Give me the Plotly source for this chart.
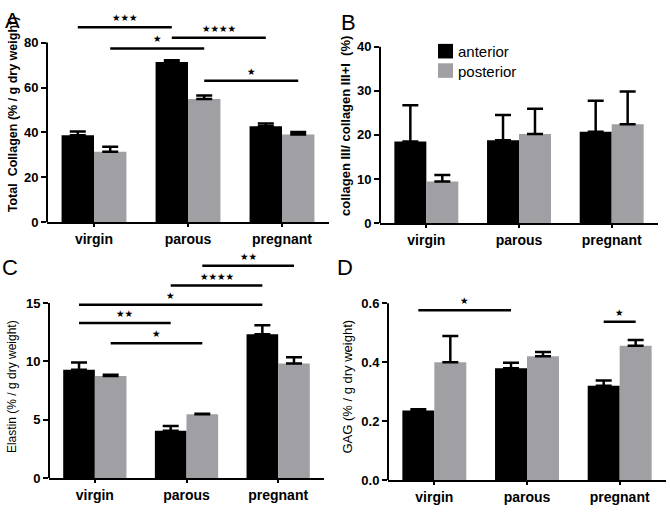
import plotly.graph_objects as go

# ---------------- data ----------------
categories = ["virgin", "parous", "pregnant"]
series_names = ["anterior", "posterior"]

collagen_anterior = [38.7, 71.4, 42.7]
collagen_anterior_err = [1.7, 0.7, 1.3]
collagen_posterior = [31.4, 54.9, 39.1]
collagen_posterior_err = [2.2, 1.6, 1.1]

ratio_anterior = [18.5, 18.8, 20.7]
ratio_anterior_err = [8.2, 5.7, 7.0]
ratio_posterior = [9.45, 20.2, 22.4]
ratio_posterior_err = [1.45, 5.7, 7.4]

elastin_anterior = [9.28, 4.05, 12.33]
elastin_anterior_err = [0.62, 0.42, 0.77]
elastin_posterior = [8.75, 5.47, 9.83]
elastin_posterior_err = [0.11, 0.05, 0.53]

gag_anterior = [0.236, 0.38, 0.32]
gag_anterior_err = [0.005, 0.018, 0.018]
gag_posterior = [0.40, 0.42, 0.456]
gag_posterior_err = [0.089, 0.015, 0.019]

# significance comparisons: (cat_a, series_a, cat_b, series_b, level, label)
collagen_sig = [
    ("virgin", "anterior", "parous", "anterior", 86.8, "***"),
    ("virgin", "posterior", "parous", "posterior", 77.4, "*"),
    ("parous", "anterior", "pregnant", "anterior", 82.2, "****"),
    ("parous", "posterior", "pregnant", "posterior", 63.0, "*"),
]
ratio_sig = []
elastin_sig = [
    ("parous", "posterior", "pregnant", "posterior", 18.2, "**"),
    ("parous", "anterior", "pregnant", "anterior", 16.5, "****"),
    ("virgin", "anterior", "pregnant", "anterior", 14.85, "*"),
    ("virgin", "anterior", "parous", "anterior", 13.3, "**"),
    ("virgin", "posterior", "parous", "posterior", 11.55, "*"),
]
gag_sig = [
    ("virgin", "anterior", "parous", "anterior", 0.576, "*"),
    ("pregnant", "anterior", "pregnant", "posterior", 0.537, "*"),
]

y_titles = ["Total  Collagen (% / g dry weight)",
            "collagen III/ collagen III+I  (%)",
            "Elastin (% / g dry weight)",
            "GAG (% / g dry weight)"]
panel_letters = ["A", "B", "C", "D"]

# ---------------- styling / layout ----------------
W, H = 670, 512
FONT = "Liberation Sans, Arial, sans-serif"
COLORS = {"anterior": "#000000", "posterior": "#A0A0A4"}
BARGAP = 0.31

# pixel geometry: left, right, baseline(y=0), px of top tick, domain top px
panels = [
    dict(data=(collagen_anterior, collagen_anterior_err, collagen_posterior, collagen_posterior_err),
         sig=collagen_sig, left=47, right=329, base=221.7, ttop=36.7, dtop=2, tmax=80, dtick=20, fmt="d",
         title=dict(x=12.5, y=111, size=12.5, bold=True), letter=(12.5, 13.5)),
    dict(data=(ratio_anterior, ratio_anterior_err, ratio_posterior, ratio_posterior_err),
         sig=ratio_sig, left=380, right=658, base=222.7, ttop=40.7, dtop=40.7, tmax=40, dtick=10, fmt="d",
         title=dict(x=346, y=122.5, size=13, bold=True), letter=(348.5, 15.5)),
    dict(data=(elastin_anterior, elastin_anterior_err, elastin_posterior, elastin_posterior_err),
         sig=elastin_sig, left=49, right=324, base=485.3, ttop=305, dtop=256, tmax=15, dtick=5, fmt="d",
         title=dict(x=11.5, y=391, size=12, bold=False), letter=(10, 268)),
    dict(data=(gag_anterior, gag_anterior_err, gag_posterior, gag_posterior_err),
         sig=gag_sig, left=388, right=666, base=487.5, ttop=305.2, dtop=290, tmax=0.6, dtick=0.2, fmt=".1f",
         title=dict(x=348, y=391, size=13, bold=False), letter=(345, 268.5)),
]

fig = go.Figure()
layout = dict(width=W, height=H, margin=dict(l=0, r=0, t=0, b=0),
              paper_bgcolor="white", plot_bgcolor="white",
              showlegend=False, barmode="group", bargap=BARGAP, bargroupgap=0,
              font=dict(family=FONT, color="black"))
shapes = []
annotations = []

bar_w = (1 - BARGAP) / 2
offsets = {"anterior": -bar_w / 2, "posterior": bar_w / 2}

for i, p in enumerate(panels):
    n = "" if i == 0 else str(i + 1)
    xa, ya = "x" + n, "y" + n
    ant, ant_e, post, post_e = p["data"]
    for name, vals, errs in (("anterior", ant, ant_e), ("posterior", post, post_e)):
        fig.add_trace(go.Bar(
            x=categories, y=vals, name=name, xaxis=xa, yaxis=ya,
            marker=dict(color=COLORS[name], line=dict(width=0)),
            error_y=dict(type="data", symmetric=False, array=errs, arrayminus=[0] * len(errs),
                         color="black", thickness=2.5, width=8),
            showlegend=False))
    rtop = p["tmax"] * (p["base"] - p["dtop"]) / (p["base"] - p["ttop"])
    ntick = int(round(p["tmax"] / p["dtick"]))
    tickvals = [k * p["dtick"] for k in range(ntick + 1)]
    layout["xaxis" + n] = dict(
        domain=[p["left"] / W, p["right"] / W], anchor=ya, type="category",
        range=[-0.5, 2.5], showline=True, linewidth=2, linecolor="black",
        ticks="outside", ticklen=3, tickwidth=2, tickcolor="black",
        showgrid=False, zeroline=False,
        tickfont=dict(family=FONT, size=14, weight="bold", color="black"))
    layout["yaxis" + n] = dict(
        domain=[1 - p["base"] / H, 1 - p["dtop"] / H], anchor=xa,
        range=[0, rtop], showline=False, showgrid=False, zeroline=False,
        tickvals=tickvals, tickformat=p["fmt"],
        ticks="outside", ticklen=5, tickwidth=2, tickcolor="black",
        tickfont=dict(family=FONT, size=13, weight="bold", color="black"))
    # y axis line spanning only the tick range
    shapes.append(dict(type="line", xref=xa + " domain", yref=ya, x0=0, x1=0,
                       y0=0, y1=p["tmax"], line=dict(color="black", width=2)))
    # significance brackets
    for ca, sa, cb, sb, lvl, lab in p["sig"]:
        x0 = categories.index(ca) + offsets[sa]
        x1 = categories.index(cb) + offsets[sb]
        shapes.append(dict(type="line", xref=xa, yref=ya, x0=x0, x1=x1, y0=lvl, y1=lvl,
                           line=dict(color="black", width=2.5)))
        annotations.append(dict(xref=xa, yref=ya, x=(x0 + x1) / 2, y=lvl,
                                text="★" * len(lab), showarrow=False,
                                yanchor="bottom", yshift=2,
                                font=dict(family="DejaVu Sans", size=9.5, color="black")))
    t = p["title"]
    annotations.append(dict(xref="paper", yref="paper", x=t["x"] / W, y=1 - t["y"] / H,
                            text=y_titles[i], textangle=-90, showarrow=False,
                            xanchor="center", yanchor="middle",
                            font=dict(family=FONT, size=t["size"],
                                      weight="bold" if t["bold"] else "normal", color="black")))
    lx, ly = p["letter"]
    annotations.append(dict(xref="paper", yref="paper", x=lx / W, y=1 - ly / H,
                            text=panel_letters[i], showarrow=False,
                            xanchor="center", yanchor="middle",
                            font=dict(family=FONT, size=22, color="black")))

# legend (panel B)
for k, name in enumerate(series_names):
    top = 38 + 20 * k
    shapes.append(dict(type="rect", xref="paper", yref="paper",
                       x0=438 / W, x1=453 / W, y0=1 - (top + 15) / H, y1=1 - top / H,
                       fillcolor=COLORS[name], line=dict(width=0)))
    annotations.append(dict(xref="paper", yref="paper", x=456 / W, y=1 - (top + 8) / H,
                            text=name, showarrow=False, xanchor="left", yanchor="middle",
                            font=dict(family=FONT, size=15, color="black")))

layout["shapes"] = shapes
layout["annotations"] = annotations
fig.update_layout(**layout)
fig.write_html("out.html", config={"displayModeBar": False},
               post_script="document.body.style.margin='0';document.body.style.padding='0';")
